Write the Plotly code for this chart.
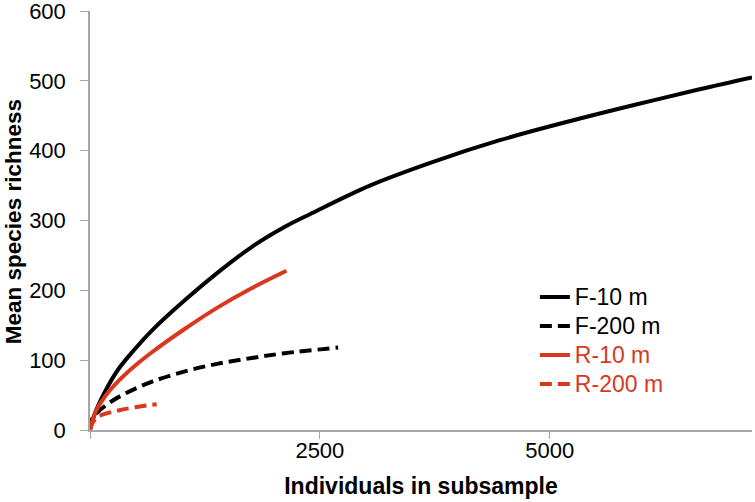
import plotly.graph_objects as go

RED = "#d9381e"

f10_x = [0, 54, 163, 308, 489, 670, 1033, 1395, 1757, 2120, 2391, 3043, 3732, 4457, 5181, 5906, 6630, 7200]
f10_y = [0, 24, 55, 87, 116, 142, 186, 226, 262, 291, 309, 350, 384, 415, 441, 465, 488, 505]

f200_x = [0, 18, 73, 199, 380, 670, 1033, 1395, 1757, 2120, 2699]
f200_y = [0, 14, 24, 38, 52, 69, 84, 95, 103, 110, 118]

r10_x = [0, 10, 54, 163, 308, 489, 670, 1033, 1395, 1757, 2137]
r10_y = [0, 5, 24, 48, 70, 92, 111, 145, 176, 203, 228]

r200_x = [0, 10, 73, 127, 308, 489, 725]
r200_y = [0, 6, 18, 21.5, 28, 32.5, 37]

x_ticks = [0, 2500, 5000]
x_ticktext = ["", "2500", "5000"]
y_ticks = [0, 100, 200, 300, 400, 500, 600]

def lg(text, color="black"):
    return "<span style='font-size:23px;color:%s'>%s</span>" % (color, text)

fig = go.Figure()
fig.add_trace(go.Scatter(x=f10_x, y=f10_y, mode="lines", name=lg("F-10 m"),
                         line=dict(color="black", width=4, shape="spline")))
fig.add_trace(go.Scatter(x=f200_x, y=f200_y, mode="lines", name=lg("F-200 m"),
                         line=dict(color="black", width=4, dash="12px,6px", shape="spline")))
fig.add_trace(go.Scatter(x=r10_x, y=r10_y, mode="lines", name=lg("R-10 m", RED),
                         line=dict(color=RED, width=4, shape="spline")))
fig.add_trace(go.Scatter(x=r200_x, y=r200_y, mode="lines", name=lg("R-200 m", RED),
                         line=dict(color=RED, width=4, dash="12px,6px", shape="spline")))

fig.add_annotation(text="<b>Mean species richness</b>", xref="paper", yref="paper",
                   x=-0.1163, y=0.496, xanchor="center", yanchor="middle",
                   textangle=-90, showarrow=False, font=dict(size=22.5, color="black"))

fig.update_layout(
    width=755, height=502,
    margin=dict(l=90, r=3, t=11, b=72, autoexpand=False),
    plot_bgcolor="white", paper_bgcolor="white",
    font=dict(family="Liberation Sans, Arial, sans-serif", size=21, color="black"),
    showlegend=True,
    legend=dict(x=0.672, y=0.364, xanchor="left", yanchor="top",
                bgcolor="rgba(0,0,0,0)", font=dict(size=20),
                tracegroupgap=0, itemwidth=30),
    xaxis=dict(range=[0, 7200], tickvals=x_ticks, ticktext=x_ticktext,
               automargin=False,
               showgrid=False, zeroline=False, showline=True, linecolor="#a6a6a6",
               linewidth=1.5, ticks="outside", ticklen=7, tickcolor="#a6a6a6",
               tickfont=dict(size=22), ticklabelstandoff=-7,
               title=dict(text="<b>Individuals in subsample</b>", font=dict(size=23), standoff=16)),
    yaxis=dict(range=[0, 600], tickvals=y_ticks, showgrid=False, zeroline=False,
               automargin=False, ticklabeloverflow="allow",
               showline=True, linecolor="#a6a6a6", linewidth=1.5, ticks="outside",
               ticklen=8, tickcolor="#a6a6a6", tickfont=dict(size=22), ticklabelstandoff=10),
)

fig.write_html("out.html", config={"displayModeBar": False},
               post_script="document.body.style.margin='0';")
